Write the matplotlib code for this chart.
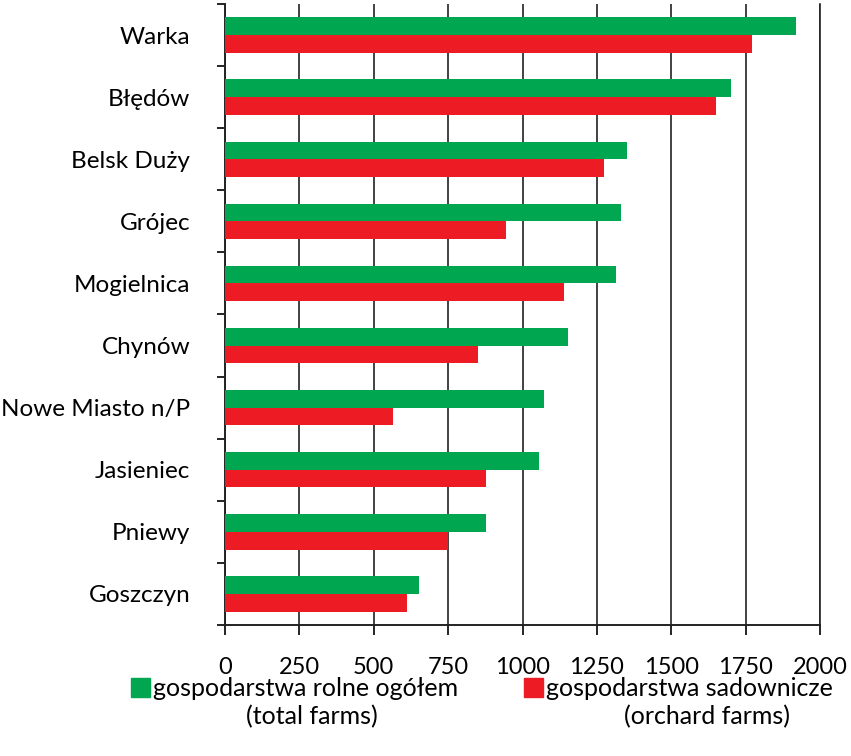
import numpy as np
import matplotlib.pyplot as plt
from matplotlib.patches import Rectangle

plt.rcParams['font.family'] = ['Lato', 'DejaVu Sans']

# dane
gminy = ['Warka', 'Błędów', 'Belsk Duży', 'Grójec', 'Mogielnica', 'Chynów',
         'Nowe Miasto n/P', 'Jasieniec', 'Pniewy', 'Goszczyn']
ogolem = [1918, 1700, 1350, 1330, 1313, 1153, 1072, 1055, 878, 653]
sadownicze = [1770, 1651, 1274, 946, 1139, 850, 565, 876, 751, 613]
xticks = [0, 250, 500, 750, 1000, 1250, 1500, 1750, 2000]

green = '#00A650'
red = '#ED1C24'

fig = plt.figure(figsize=(8.51, 7.56), dpi=100)
ax = fig.add_axes([0.2644, 0.1733, 0.6992, 0.8214])

y = np.arange(len(gminy))
h = 0.285
ax.barh(y - h/2, ogolem, height=h, color=green, zorder=3)
ax.barh(y + h/2, sadownicze, height=h, color=red, zorder=3)

ax.set_xlim(0, 2000)
ax.set_ylim(len(gminy) - 0.5, -0.5)
ax.set_xticks(xticks)
ax.set_xticklabels([str(t) for t in xticks], fontsize=17)
ax.tick_params(axis='x', direction='out', length=7, width=1.2, pad=16)

# granice kategorii jako ticki, nazwy jako minor
ax.set_yticks(np.arange(len(gminy) + 1) - 0.5)
ax.set_yticklabels([])
ax.tick_params(axis='y', which='major', direction='out', length=6, width=1.2)
ax.set_yticks(y, minor=True)
ax.set_yticklabels(gminy, minor=True, fontsize=17.5)
ax.tick_params(axis='y', which='minor', length=0, pad=25)

ax.grid(axis='x', color='#222222', linewidth=1.2, zorder=0)
ax.set_axisbelow(True)
ax.spines['top'].set_visible(False)
for s in ['left', 'bottom', 'right']:
    ax.spines[s].set_linewidth(1.4)
    ax.spines[s].set_color('#222222')
ax.spines['right'].set_linewidth(1.2)

# legenda
W, H = 851, 756
def legend_item(x, yy, color, line1, line2, cx2):
    fig.patches.append(Rectangle((x / W, 1 - (yy + 9) / H), 19 / W, 19 / H,
                                 transform=fig.transFigure, color=color))
    fig.text((x + 22) / W, 1 - yy / H, line1, fontsize=18, va='center', ha='left')
    fig.text(cx2 / W, 1 - (yy + 29) / H, line2, fontsize=18, va='center', ha='center')

legend_item(131, 688, green, 'gospodarstwa rolne ogółem', '(total farms)', 312)
legend_item(524, 688, red, 'gospodarstwa sadownicze', '(orchard farms)', 707)

plt.savefig('out.png', dpi=100)
